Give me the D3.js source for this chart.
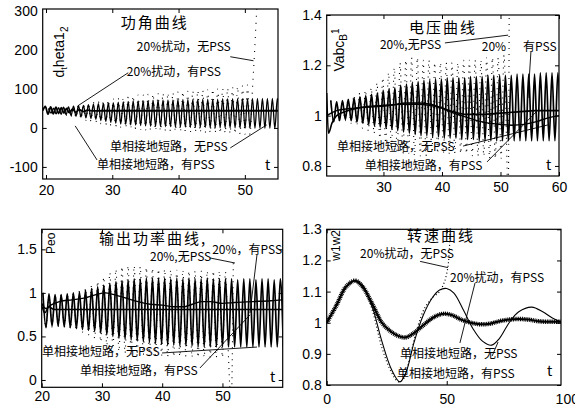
<!DOCTYPE html>
<html>
<head>
<meta charset="utf-8">
<script src="https://cdn.jsdelivr.net/npm/d3@7"></script>
<style>
body { margin: 0; background: #fff; }
.cn { font-family: "Noto Sans CJK SC", sans-serif; }
</style>
</head>
<body>
<svg id="fig" width="575" height="406"></svg>
<script>
// ---- panel 1: power angle (功角) ----
var angSpan = [20.4, 54.9];
var angHi = [50,51,52,53,54,56,57,58,60,61, 62,63,64,65,66,67,68,69,69,70, 70,71,71,72,72,72,73,73,73,73, 74,74,74,74,74,75,75,75,75,75, 75,76,76,76,76,76,76];
var angLo = [38,36,35,34,32,30,28,26,24,22, 19,17,14,12,10,9,8,7,6,5, 4,4,3,3,3,2,2,2,1,1, 1,1,0,0,0,0,0,0,0,-1, -1,-1,-1,-1,-1,-2,-2];
var angDotSpan = [20.4, 50.4];
var angDotHi = [50,51,52,54,56,58,60,62,64,66, 68,70,72,74,76,78,80,82,84,85, 86,87,88,89,90,91,92,93,94,95, 96,97,98,99,100,101,102,104,106,108, 110];
var angDotLo = [38,36,34,32,29,26,23,20,17,14, 11,8,6,4,2,0,-2,-3,-4,-5, -6,-7,-8,-8,-9,-9,-10,-10,-11,-11, -12,-12,-13,-13,-14,-14,-15,-15,-16,-16, -17];
var angDotTail = [[51.15,100],[51.45,190],[51.75,290],[51.95,340]];
var angFlat = [[19.5,44],[19.9,55],[20.3,35],[20.7,54],[21.1,36],[21.5,53],[21.9,37],[22.3,52],[22.7,38],[23.1,50],[23.5,39],[24.0,48],[24.5,40],[25.0,47],[25.6,42],[26.3,45.5],[27.2,43.5],[28.5,44],[55,44]];

// ---- panel 2: voltage (电压) ----
var voltSpan = [21.0, 59.8];
var voltHi = [1.06,1.055,1.06,1.065,1.07,1.075,1.08,1.085,1.09,1.10, 1.105,1.11,1.12,1.125,1.13,1.135,1.14,1.14,1.145,1.145, 1.15,1.15,1.15,1.15,1.155,1.155,1.155,1.16,1.16,1.16, 1.16,1.16,1.165,1.165,1.165,1.165,1.17,1.17,1.17,1.17];
var voltLo = [0.975,0.98,0.985,0.98,0.975,0.97,0.965,0.96,0.955,0.95, 0.945,0.94,0.935,0.93,0.925,0.92,0.92,0.915,0.915,0.91, 0.91,0.91,0.905,0.905,0.905,0.9,0.9,0.9,0.9,0.9, 0.9,0.9,0.9,0.9,0.9,0.9,0.9,0.9,0.9,0.9];
var voltDotSpan = [21.0, 50.6];
var voltDotHi = [1.06,1.055,1.06,1.07,1.08,1.09,1.10,1.11,1.13,1.15, 1.17,1.19,1.21,1.22,1.23,1.23,1.22,1.22,1.21,1.21, 1.21,1.21,1.21,1.22,1.22,1.22,1.22,1.23,1.23,1.23, 1.24];
var voltDotLo = [0.975,0.98,0.98,0.97,0.96,0.95,0.94,0.93,0.91,0.89, 0.87,0.86,0.85,0.85,0.84,0.84,0.84,0.85,0.85,0.85, 0.85,0.85,0.85,0.85,0.84,0.84,0.84,0.83,0.83,0.83, 0.83];
var voltDotTail = [[51.3,0.6],[51.5,1.5]];
var voltSmoothA = [[20.3,1.09],[20.6,0.93],[21.2,0.97],[22,1.0],[24,1.02],[27,1.035],[30,1.04],[33,1.045],[36,1.045],[38,1.04],[40,1.03],[42,1.015],[44,1.005],[47,1.005],[50,1.01],[53,1.015],[56,1.02],[60,1.02]];
var voltSmoothB = [[20.3,1.0],[22,1.02],[25,1.03],[28,1.035],[31,1.04],[34,1.05],[36,1.05],[38,1.045],[40,1.03],[42,1.01],[44,0.995],[46,0.98],[48,0.97],[50,0.965],[52,0.962],[54,0.965],[56,0.975],[58,0.99],[60,1.0]];

// ---- panel 3: output power (输出功率) ----
var powSpan = [20.2, 59.6];
var powHi = [1.0,0.99,0.98,0.98,0.99,1.0,1.01,1.03,1.05,1.07, 1.09,1.11,1.13,1.14,1.15,1.16,1.16,1.17,1.17,1.17, 1.17,1.16,1.17,1.16,1.17,1.16,1.16,1.17,1.16,1.16, 1.16,1.16,1.15,1.16,1.16,1.15,1.16,1.16,1.15,1.16];
var powLo = [0.6,0.62,0.62,0.61,0.6,0.59,0.58,0.57,0.56,0.54, 0.52,0.5,0.48,0.47,0.46,0.45,0.44,0.43,0.42,0.41, 0.40,0.40,0.39,0.39,0.39,0.38,0.38,0.38,0.38,0.38, 0.38,0.38,0.38,0.38,0.38,0.38,0.38,0.38,0.38,0.38];
var powDotSpan = [20.2, 50.5];
var powDotHi = [1.0,0.99,0.98,0.98,0.99,1.0,1.02,1.05,1.09,1.13, 1.18,1.23,1.27,1.30,1.31,1.31,1.30,1.29,1.28,1.27, 1.27,1.26,1.26,1.26,1.25,1.25,1.25,1.25,1.25,1.25, 1.24];
var powDotLo = [0.6,0.61,0.61,0.6,0.59,0.57,0.55,0.52,0.48,0.44, 0.40,0.36,0.33,0.31,0.30,0.29,0.29,0.28,0.28,0.28, 0.27,0.27,0.27,0.27,0.26,0.26,0.26,0.26,0.26,0.26, 0.26];
var powDotTail = [[51.45,-0.3],[51.8,1.35]];
var powSmooth = [[20,0.88],[20.7,0.82],[21.5,0.86],[23,0.9],[25,0.92],[27,0.94],[29,0.98],[30.5,1.0],[32,0.98],[34,0.94],[36,0.9],[38,0.87],[40,0.86],[42,0.84],[43.5,0.84],[45,0.87],[46.5,0.9],[48,0.9],[50,0.88],[52,0.89],[55,0.9],[58,0.91],[60,0.92]];
var powFlat = [[20,0.86],[20.5,0.77],[21.2,0.84],[22,0.81],[60,0.81]];

// ---- panel 4: speed (转速) ----
var spdThin = [[0,1.0],[4,1.055],[8,1.115],[11.8,1.135],[15,1.12],[19,1.05],[23,0.94],[27,0.85],[30.5,0.81],[33,0.84],[36.5,0.94],[40,1.02],[44,1.08],[47,1.105],[50,1.11],[53,1.095],[57,1.04],[61,0.98],[65,0.94],[68.7,0.928],[72,0.95],[76,1.0],[80,1.035],[85.4,1.05],[90,1.035],[94,1.015],[97.6,1.003]];
var spdThick = [[0,1.0],[4,1.055],[8,1.115],[11.8,1.135],[15,1.115],[19,1.06],[23,1.0],[27,0.97],[30,0.957],[33,0.953],[36,0.965],[40,0.99],[44,1.015],[48,1.028],[52,1.025],[56,1.01],[60,1.0],[64,0.995],[68,0.997],[72,1.005],[76,1.01],[80,1.012],[84,1.01],[88,1.005],[92,1.003],[97.6,1.003]];
var spdDot = [[0,1.0],[4,1.055],[8,1.115],[11.8,1.135],[15,1.12],[19,1.04],[23,0.92],[27,0.84],[30,0.81],[32,0.82],[35,0.9],[38,0.99],[41,1.05],[44,1.08],[47,1.1],[49,1.13],[50.3,1.17],[51,1.22],[51.5,1.35]];

// tick labels
var angXTicks = [20, 30, 40, 50], angYTicks = [300, 200, 100, 0, -100];
var voltXTicks = [30, 40, 50, 60], voltYTicks = [1.4, 1.2, 1, 0.8];
var powXTicks = [20, 30, 40, 50], powYTicks = [1.5, 1, 0.5, 0];
var spdXTicks = [0, 50, 100], spdYTicks = [1.3, 1.2, 1.1, 1, 0.9, 0.8];

var svg = d3.select("#fig");
var latin = "'Liberation Sans', Arial, sans-serif";

// peaks at evenly spread cycle slots, troughs half a slot later
function swing(span, hi, lo, tail) {
  var slot = d3.scaleLinear().domain([0, hi.length - 1]).range(span);
  var pts = [];
  hi.forEach(function (h, i) {
    pts.push([slot(i), h]);
    pts.push([slot(i + 0.5), lo[i]]);
  });
  return tail ? pts.concat(tail) : pts;
}

function panel(id, box, xDom, yDom, xTicks, yTicks, xPad) {
  var w = box[2] - box[0], h = box[3] - box[1];
  var g = svg.append("g").attr("transform", "translate(" + box[0] + "," + box[1] + ")");
  var x = d3.scaleLinear().domain(xDom).range([0, w]);
  var y = d3.scaleLinear().domain(yDom).range([h, 0]);
  svg.append("clipPath").attr("id", id).append("rect").attr("width", w).attr("height", h);
  var fmt = function (d) { return String(d); };
  var style = function (a) {
    a.attr("font-family", latin).attr("font-size", 14);
    a.selectAll(".domain").remove();
    a.selectAll("line").attr("stroke", "#000");
  };
  g.append("g").attr("transform", "translate(0," + h + ")")
    .call(d3.axisBottom(x).tickValues(xTicks).tickSizeInner(-4).tickSizeOuter(0).tickPadding(xPad).tickFormat(fmt)).call(style);
  g.append("g").call(d3.axisTop(x).tickValues(xTicks).tickSizeInner(-4).tickSizeOuter(0).tickFormat("")).call(style);
  g.append("g").call(d3.axisLeft(y).tickValues(yTicks).tickSizeInner(-4).tickSizeOuter(0).tickPadding(5).tickFormat(fmt)).call(style);
  g.append("g").attr("transform", "translate(" + w + ",0)")
    .call(d3.axisRight(y).tickValues(yTicks).tickSizeInner(-4).tickSizeOuter(0).tickFormat("")).call(style);
  g.selectAll(".tick").filter(function (d) { return d > xDom[1]; }).select("line").remove();
  g.append("rect").attr("width", w).attr("height", h).attr("fill", "none").attr("stroke", "#000").attr("stroke-width", 1.2);
  var plot = g.append("g").attr("clip-path", "url(#" + id + ")");
  return { g: g, plot: plot, x: x, y: y };
}

function draw(p, pts, width, dash, curve) {
  var line = d3.line().x(function (d) { return p.x(d[0]); }).y(function (d) { return p.y(d[1]); })
    .curve(curve || d3.curveMonotoneX);
  var path = p.plot.append("path").attr("d", line(pts)).attr("fill", "none")
    .attr("stroke", "#000").attr("stroke-width", width);
  if (dash) path.attr("stroke-dasharray", dash);
  return path;
}

function note(p, t, v, txt, size) {
  return p.g.append("text").attr("class", "cn").attr("x", p.x(t)).attr("y", p.y(v))
    .attr("font-size", size || 12).text(txt);
}
function tee(p, t, v) {
  note(p, t, v, "t", 14).attr("font-family", latin);
}
function lead(p, a, b) {
  p.g.append("line").attr("x1", p.x(a[0])).attr("y1", p.y(a[1])).attr("x2", p.x(b[0])).attr("y2", p.y(b[1]))
    .attr("stroke", "#000").attr("stroke-width", 0.9);
}
function title(p, t, v, txt) {
  note(p, t, v, txt, 15).attr("text-anchor", "middle").attr("letter-spacing", 2);
}
function ylab(p, px, py, parts, size) {
  var tx = p.g.append("text").attr("transform", "translate(" + px + "," + py + ") rotate(-90)")
    .attr("text-anchor", "middle").attr("font-family", latin).attr("font-size", size);
  parts.forEach(function (s) {
    tx.append("tspan").attr("dy", s[1]).attr("font-size", s[2] || size).text(s[0]);
  });
}

// ===== panel 1 =====
var a = panel("cA", [42.7, 9, 278, 179], [19.5, 55], [-131, 305], angXTicks, angYTicks, 6);
draw(a, swing(angDotSpan, angDotHi, angDotLo, angDotTail), 1.1, "1,6");
draw(a, swing(angSpan, angHi, angLo), 1.3);
draw(a, angFlat, 1.8);
title(a, 36.4, 255, "功角曲线");
ylab(a, 21, 43, [["d", 0], ["t", 3, 9], ["heta1", -3], ["2", 4, 10]], 14);
note(a, 33.7, 198, "20%扰动，无PSS"); lead(a, [47.8, 182.6], [51.3, 172.3]);
note(a, 32.2, 133.8, "20%扰动，有PSS"); lead(a, [32.4, 141.5], [24.8, 56.7]);
note(a, 29.65, -59, "单相接地短路，无PSS"); lead(a, [47.8, -51.3], [53.3, 7.8]);
note(a, 27.7, -105.3, "单相接地短路，有PSS"); lead(a, [27.7, -82.2], [24.4, 5.2]);
tee(a, 53.05, -107.9);

// ===== panel 2 =====
var b = panel("cB", [326.7, 15, 559, 176], [20.3, 60], [0.76, 1.4], voltXTicks, voltYTicks, 6);
draw(b, swing(voltDotSpan, voltDotHi, voltDotLo, voltDotTail), 1.1, "1,5");
draw(b, swing(voltSpan, voltHi, voltLo), 1.7);
draw(b, voltSmoothA, 1.6);
draw(b, voltSmoothB, 1.4);
title(b, 40.17, 1.328, "电压曲线");
ylab(b, 17, 35, [["Vabc", 0], ["B", 3, 10], ["1", -8, 10]], 14);
note(b, 29.4, 1.265, "20%,无PSS"); lead(b, [40.5, 1.289], [51.3, 1.32]);
note(b, 46.8, 1.257, "20%"); note(b, 53.85, 1.257, "有PSS"); lead(b, [55.2, 1.253], [54.7, 1.07]);
note(b, 22.06, 0.859, "单相接地短路，无PSS"); lead(b, [43.6, 0.879], [58.1, 0.963]);
note(b, 26.8, 0.784, "单相接地短路，有PSS"); lead(b, [47.7, 0.816], [56.4, 1.022]);
tee(b, 57.8, 0.784);

// ===== panel 3 =====
var c = panel("cC", [41.7, 229.3, 282.7, 387.3], [20, 60], [-0.084, 1.73], powXTicks, powYTicks, 4);
draw(c, swing(powDotSpan, powDotHi, powDotLo, powDotTail), 1.1, "1,5");
draw(c, swing(powSpan, powHi, powLo), 1.7);
draw(c, powSmooth, 1.4);
draw(c, powFlat, 1.4);
title(c, 38.47, 1.565, "输出功率曲线,");
ylab(c, 13, 14, [["Peo", 0]], 12);
note(c, 37.97, 1.362, "20%,无PSS"); lead(c, [47.93, 1.401], [52.08, 1.343]);
note(c, 48.3, 1.446, "20%，有PSS"); lead(c, [55.73, 1.436], [54.57, 0.769]);
note(c, 20.05, 0.275, "单相接地短路，无PSS"); lead(c, [39.97, 0.31], [55.73, 0.378]);
note(c, 26.36, 0.058, "单相接地短路，有PSS"); lead(c, [46.27, 0.138], [54.57, 0.747]);
tee(c, 57.9, -0.023);

// ===== panel 4 =====
var d = panel("cD", [326.7, 229.3, 561, 385], [0, 97.6], [0.8, 1.3], spdXTicks, spdYTicks, 9);
draw(d, spdDot, 1.2, "1,2.5", d3.curveCatmullRom);
draw(d, spdThin, 1.1, null, d3.curveCatmullRom);
draw(d, spdThick, 4.5, "1,0.8", d3.curveCatmullRom);
draw(d, spdThick, 2, null, d3.curveCatmullRom);
title(d, 47.6, 1.262, "转速曲线");
ylab(d, 13, 16, [["w1w2", 0]], 12);
note(d, 13.9, 1.208, "20%扰动，无PSS"); lead(d, [38.9, 1.197], [50.5, 1.177]);
note(d, 51.4, 1.131, "20%扰动，有PSS"); lead(d, [61.8, 1.128], [55.5, 0.935]);
note(d, 30.5, 0.887, "单相接地短路，无PSS"); lead(d, [68.9, 0.893], [71.4, 0.938]);
note(d, 29.3, 0.822, "单相接地短路，有PSS");
tee(d, 91.8, 0.829);
</script>
</body>
</html>
